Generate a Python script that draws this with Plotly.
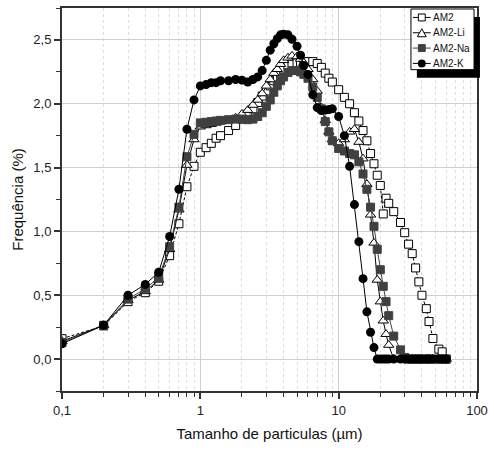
import plotly.graph_objects as go

# Particle size classes (µm)
size_um = [0.1, 0.2, 0.3, 0.4, 0.5, 0.6, 0.7, 0.8, 0.9, 1.0,
           1.1, 1.2, 1.3, 1.4,
           1.6, 1.8, 2.0, 2.2, 2.4, 2.6, 2.8,
           3.0, 3.2, 3.4, 3.6, 3.8, 4.0,
           4.3, 4.6, 5.0, 5.3, 5.6, 6.0,
           6.5, 7.0, 7.5, 8.0, 8.5, 9.0,
           10, 11, 12, 13, 14, 15, 16, 17, 18, 19, 20, 21, 22, 23,
           25, 28, 30, 32, 34, 36, 38, 40,
           43, 45, 48, 53, 56, 60]

# Frequency (%) per class
am2 = [0.16, 0.26, 0.45, 0.52, 0.61, 0.81, 1.06, 1.35, 1.51, 1.62,
       1.656, 1.69, 1.73, 1.75,
       1.79, 1.83, 1.88, 1.92, 1.96, 2.01, 2.06,
       2.10, 2.14, 2.18, 2.21, 2.24, 2.27,
       2.30, 2.31, 2.32, 2.325, 2.33, 2.33,
       2.33, 2.315, 2.285, 2.24, 2.20, 2.17,
       2.11, 2.05, 2.0, 1.93, 1.865, 1.79, 1.71, 1.61, 1.53, 1.44, 1.36, 1.137, 1.26, 1.22,
       1.155, 1.07, 0.99, 0.90, 0.826, 0.714, 0.605, 0.50,
       0.395, 0.294, 0.161, 0.078, 0.057, 0.0]

am2_li = [0.14, 0.265, 0.46, 0.53, 0.62, 0.86, 1.17, 1.52, 1.72, 1.82,
          1.83, 1.84, 1.85, 1.86,
          1.87, 1.89, 1.92, 1.95, 1.99, 2.03, 2.08,
          2.14, 2.19, 2.24, 2.27, 2.31, 2.34,
          2.36, 2.375, 2.37, 2.35, 2.32, 2.27,
          2.19, 2.10, 1.97, 1.87, 1.78, 1.72,
          1.69, 1.72, 1.78, 1.80, 1.70, 1.57, 1.37, 1.13, 0.91, 0.62, 0.45, 0.30, 0.195, 0.11,
          0, 0, 0, 0, 0, 0, 0, 0,
          0, 0, 0, 0, 0, 0]

am2_na = [0.13, 0.265, 0.47, 0.55, 0.64, 0.88, 1.19, 1.585, 1.76, 1.85,
          1.855, 1.86, 1.865, 1.87,
          1.875, 1.88, 1.88, 1.875, 1.88, 1.90, 1.93,
          1.98, 2.03, 2.09, 2.14, 2.18, 2.21,
          2.245, 2.26, 2.26, 2.25, 2.23, 2.20,
          2.13, 2.05, 1.96, 1.86, 1.78, 1.71,
          1.65, 1.63, 1.61, 1.60, 1.545, 1.45, 1.33, 1.19, 1.04, 0.86, 0.70, 0.57, 0.45, 0.34,
          0.18, 0.072, 0.013, 0, 0, 0, 0, 0,
          0, 0, 0, 0, 0, 0]

am2_k = [0.12, 0.265, 0.50, 0.585, 0.68, 0.96, 1.33, 1.80, 2.03, 2.14,
         2.15, 2.165, 2.165, 2.18,
         2.18, 2.19, 2.185, 2.17, 2.19, 2.21, 2.26,
         2.34, 2.42, 2.47, 2.51, 2.54, 2.545,
         2.54, 2.505, 2.45, 2.38, 2.30, 2.23,
         2.07, 1.97, 1.947, 1.95, 1.955, 1.96,
         1.90, 1.75, 1.51, 1.21, 0.92, 0.63, 0.37, 0.21, 0.09, 0, 0, 0, 0, 0,
         0, 0, 0, 0, 0, 0, 0, 0,
         0, 0, 0, 0, 0, 0]

series_names = ["AM2", "AM2-Li", "AM2-Na", "AM2-K"]
x_tick_vals = [0.1, 1, 10, 100]
x_tick_text = ["0,1", "1", "10", "100"]
x_minor_vals = [m * d for d in (0.1, 1, 10) for m in range(2, 10)]

# Per-series style: marker shape, fill, edge, line colour, line dash
styles = [
    dict(symbol="square", fill="white", edge="black", line="black", dash="3px,2px"),
    dict(symbol="triangle-up", fill="white", edge="black", line="black", dash="solid"),
    dict(symbol="square", fill="#404040", edge="#404040", line="#404040", dash="solid"),
    dict(symbol="circle", fill="black", edge="black", line="black", dash="solid"),
]
marker_sizes = {"square": 8, "triangle-up": 9, "circle": 9}

fig = go.Figure()
for name, values, st in zip(series_names, [am2, am2_li, am2_na, am2_k], styles):
    fig.add_trace(go.Scatter(
        x=size_um, y=values, name=name, mode="lines+markers", showlegend=False,
        marker=dict(symbol=st["symbol"], size=marker_sizes[st["symbol"]], color=st["fill"],
                    line=dict(color=st["edge"], width=1 if st["symbol"] != "circle" else 0)),
        line=dict(color=st["line"], width=1, dash=st["dash"])))

W, H = 494, 453
ml, mr, mt, mb = 62, 11, 6, 62
pw, ph = W - ml - mr, H - mt - mb


def px_x(px):
    return (px - ml) / pw


def px_y(py):
    return 1 - (py - mt) / ph


# ---- Legend: framed box with a solid drop shadow, drawn in pixel units ----
box_l, box_t, box_r, box_b = 416, 7, 480, 68
shadow_dx, shadow_dy = 6, 8
row_y0, row_step = 15.5, 15.4
glyph_x0, glyph_x1, glyph_cx = 418, 436, 427
text_x = 437

legend_shapes = [
    dict(type="rect", xref="paper", yref="paper",
         x0=px_x(box_l + shadow_dx), x1=px_x(box_r + shadow_dx),
         y0=px_y(box_b + shadow_dy), y1=px_y(box_t + shadow_dy),
         fillcolor="black", line=dict(width=0), layer="above"),
    dict(type="rect", xref="paper", yref="paper",
         x0=px_x(box_l), x1=px_x(box_r), y0=px_y(box_b), y1=px_y(box_t),
         fillcolor="white", line=dict(color="black", width=1), layer="above"),
]

annotations = []
for i, (name, st) in enumerate(zip(series_names, styles)):
    cy = row_y0 + i * row_step
    legend_shapes.append(dict(type="line", xref="paper", yref="paper",
                              x0=px_x(glyph_x0), x1=px_x(glyph_x1), y0=px_y(cy), y1=px_y(cy),
                              line=dict(color=st["line"], width=1), layer="above"))
    if st["symbol"] == "square":
        h = 3.5
        legend_shapes.append(dict(type="rect", xref="paper", yref="paper",
                                  x0=px_x(glyph_cx - h), x1=px_x(glyph_cx + h),
                                  y0=px_y(cy + h), y1=px_y(cy - h),
                                  fillcolor=st["fill"], line=dict(color=st["edge"], width=1),
                                  layer="above"))
    elif st["symbol"] == "circle":
        r = 4
        legend_shapes.append(dict(type="circle", xref="paper", yref="paper",
                                  x0=px_x(glyph_cx - r), x1=px_x(glyph_cx + r),
                                  y0=px_y(cy + r), y1=px_y(cy - r),
                                  fillcolor=st["fill"], line=dict(color=st["edge"], width=0),
                                  layer="above"))
    else:
        hw, hh = 4.5, 4
        path = "M {:.5f},{:.5f} L {:.5f},{:.5f} L {:.5f},{:.5f} Z".format(
            px_x(glyph_cx), px_y(cy - hh),
            px_x(glyph_cx + hw), px_y(cy + hh),
            px_x(glyph_cx - hw), px_y(cy + hh))
        legend_shapes.append(dict(type="path", xref="paper", yref="paper", path=path,
                                  fillcolor=st["fill"], line=dict(color=st["edge"], width=1),
                                  layer="above"))
    annotations.append(dict(text=name, xref="paper", yref="paper", x=px_x(text_x), y=px_y(cy),
                            xanchor="left", yanchor="middle", showarrow=False, borderpad=0,
                            font=dict(family="Liberation Sans, Arial, sans-serif", size=10,
                                      color="#111")))

axis_font = dict(family="Liberation Sans, Arial, sans-serif", size=13, color="#222")

fig.update_layout(
    width=W, height=H,
    margin=dict(l=ml, r=mr, t=mt, b=mb),
    paper_bgcolor="white", plot_bgcolor="white",
    separators=",.",
    font=axis_font,
    shapes=legend_shapes,
    annotations=annotations,
    xaxis=dict(type="log", range=[-1, 2],
               tickvals=x_tick_vals, ticktext=x_tick_text,
               ticks="outside", ticklen=6, tickwidth=1.5, tickcolor="#333",
               showline=True, linecolor="#333", linewidth=2, mirror=True,
               showgrid=True, gridcolor="#cfcfcf", gridwidth=1, zeroline=False,
               minor=dict(tickvals=x_minor_vals, ticks="outside", ticklen=4, tickwidth=1,
                          tickcolor="#333", showgrid=True, gridcolor="#dedede", griddash="dot"),
               title=dict(text="Tamanho de particulas (µm)", font=dict(size=15, color="#111"),
                          standoff=12)),
    yaxis=dict(range=[-0.25, 2.75], tick0=0, dtick=0.5, tickformat=".1f",
               ticks="outside", ticklen=6, tickwidth=1.5, tickcolor="#333",
               showline=True, linecolor="#333", linewidth=2, mirror=True,
               showgrid=True, gridcolor="#cfcfcf", gridwidth=1, zeroline=False,
               minor=dict(dtick=0.25, ticks="outside", ticklen=4, tickwidth=1, tickcolor="#333",
                          showgrid=False),
               title=dict(text="Frequência (%)", font=dict(size=15, color="#111"), standoff=6)),
)

fig.write_html("out.html")
